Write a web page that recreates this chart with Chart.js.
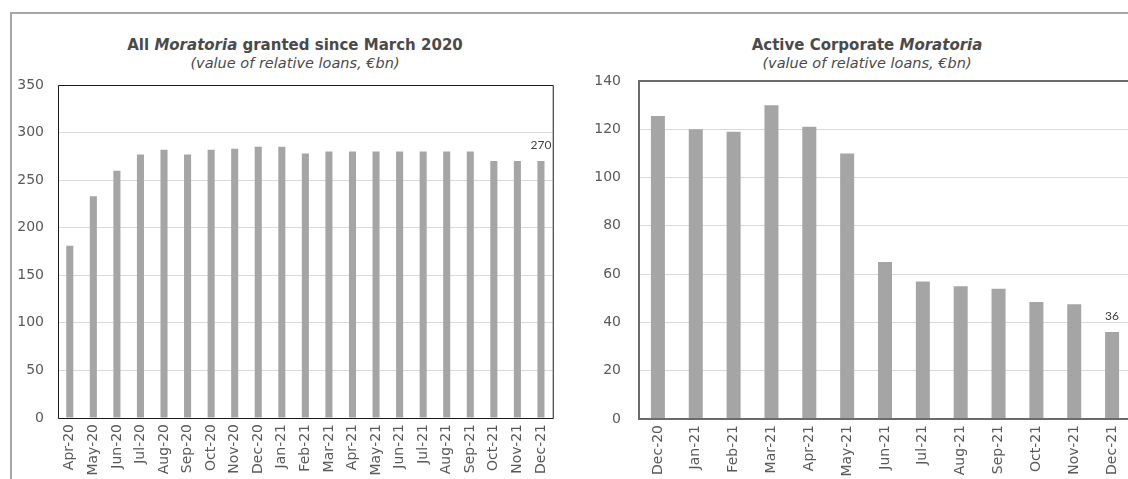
<!DOCTYPE html>
<html lang="en">
<head>
    <meta charset="UTF-8">
    <title>Moratoria</title>
    <script src="https://cdn.jsdelivr.net/npm/chart.js"></script>
    <style>
        html, body { margin: 0; padding: 0; background: #fff; }
        body { width: 1128px; height: 479px; position: relative; overflow: hidden; font-family: "DejaVu Sans", Verdana, sans-serif; }
        .frame { position: absolute; left: 10px; top: 12px; width: 1200px; height: 600px; border-top: 2px solid #a6a6a6; border-left: 2px solid #a6a6a6; }
        .title { position: absolute; width: 500px; text-align: center; color: #4a4a4a; }
        .title .main { font-size: 15px; font-weight: bold; line-height: 18px; }
        .title .sub { font-size: 14.5px; font-style: italic; line-height: 18px; }
        #allWrap { position: absolute; left: 0; top: 0; width: 564px; height: 479px; }
        #activeWrap { position: absolute; left: 564px; top: 0; width: 580px; height: 479px; }
    </style>
</head>
<body>
    <div class="frame"></div>

    <div class="title" style="left: 45px; top: 36px;">
        <div class="main">All <i>Moratoria</i> granted since March 2020</div>
        <div class="sub">(value of relative loans, €bn)</div>
    </div>
    <div class="title" style="left: 617px; top: 36px;">
        <div class="main">Active Corporate <i>Moratoria</i></div>
        <div class="sub">(value of relative loans, €bn)</div>
    </div>

    <div id="allWrap"><canvas id="allChart"></canvas></div>
    <div id="activeWrap"><canvas id="activeChart"></canvas></div>

    <script>
        // all moratoria granted, €bn
        const allMonths = ['Apr-20', 'May-20', 'Jun-20', 'Jul-20', 'Aug-20', 'Sep-20', 'Oct-20', 'Nov-20', 'Dec-20',
            'Jan-21', 'Feb-21', 'Mar-21', 'Apr-21', 'May-21', 'Jun-21', 'Jul-21', 'Aug-21', 'Sep-21', 'Oct-21', 'Nov-21', 'Dec-21'];
        const allValues = [181, 233, 260, 277, 282, 277, 282, 283, 285, 285, 278, 280, 280, 280, 280, 280, 280, 280, 270, 270, 270];

        // active corporate moratoria, €bn
        const activeMonths = ['Dec-20', 'Jan-21', 'Feb-21', 'Mar-21', 'Apr-21', 'May-21', 'Jun-21', 'Jul-21', 'Aug-21',
            'Sep-21', 'Oct-21', 'Nov-21', 'Dec-21'];
        const activeValues = [125.5, 120, 119, 130, 121, 110, 65, 57, 55, 54, 48.5, 47.5, 36];

        const allTicks = { min: 0, max: 350, step: 50 };
        const activeTicks = { min: 0, max: 140, step: 20 };

        Chart.defaults.animation = false;
        Chart.defaults.font.family = '"DejaVu Sans", Verdana, sans-serif';
        Chart.defaults.font.size = 14;
        Chart.defaults.color = '#595959';

        // writes the value above the last bar
        const lastLabel = {
            id: 'lastLabel',
            afterDatasetsDraw(chart) {
                const meta = chart.getDatasetMeta(0);
                const i = meta.data.length - 1;
                const bar = meta.data[i];
                const ctx = chart.ctx;
                ctx.save();
                ctx.font = '12px Lato, "Open Sans", sans-serif';
                ctx.fillStyle = '#404040';
                ctx.textAlign = 'center';
                ctx.textBaseline = 'bottom';
                ctx.fillText(String(chart.data.datasets[0].data[i]), bar.x, bar.y - 10);
                ctx.restore();
            }
        };

        // plot area outline
        const outline = {
            id: 'outline',
            afterDraw(chart, args, opts) {
                const a = chart.chartArea;
                const ctx = chart.ctx;
                ctx.save();
                ctx.strokeStyle = opts.color;
                ctx.lineWidth = opts.width;
                ctx.beginPath();
                if (opts.full) {
                    ctx.rect(a.left + 0.5, a.top + 0.5, a.right - a.left, a.bottom - a.top);
                } else {
                    ctx.moveTo(a.right + 5, a.top);
                    ctx.lineTo(a.left, a.top);
                    ctx.lineTo(a.left, a.bottom);
                    ctx.lineTo(a.right + 5, a.bottom);
                }
                ctx.stroke();
                ctx.restore();
            }
        };

        function makeChart(id, labels, values, ticks, o) {
            return new Chart(document.getElementById(id), {
                type: 'bar',
                data: {
                    labels: labels,
                    datasets: [{
                        data: values,
                        backgroundColor: '#a5a5a5',
                        barPercentage: o.barPct,
                        categoryPercentage: 1
                    }]
                },
                options: {
                    responsive: true,
                    maintainAspectRatio: false,
                    layout: { padding: { top: o.top, right: o.right, left: 0, bottom: 0 } },
                    plugins: {
                        legend: { display: false },
                        tooltip: { enabled: false },
                        outline: o.outline
                    },
                    scales: {
                        x: {
                            grid: { display: false, drawTicks: false },
                            border: { display: false },
                            ticks: { autoSkip: false, minRotation: 90, maxRotation: 90, padding: 6 },
                            afterFit: s => { s.height = o.xHeight; }
                        },
                        y: {
                            min: ticks.min,
                            max: ticks.max,
                            grid: { color: '#d9d9d9', drawTicks: false },
                            border: { display: false },
                            ticks: { stepSize: ticks.step, padding: o.yPad },
                            afterFit: s => { s.width = o.yWidth; }
                        }
                    }
                },
                plugins: [lastLabel, outline]
            });
        }

        makeChart('allChart', allMonths, allValues, allTicks, {
            barPct: 0.3, top: 85, right: 10, xHeight: 61, yWidth: 58, yPad: 14,
            outline: { full: true, color: '#1a1a1a', width: 1 }
        });

        makeChart('activeChart', activeMonths, activeValues, activeTicks, {
            barPct: 0.37, top: 81, right: 13, xHeight: 60, yWidth: 75, yPad: 18,
            outline: { full: false, color: '#6b6b6b', width: 2 }
        });
    </script>
</body>
</html>
